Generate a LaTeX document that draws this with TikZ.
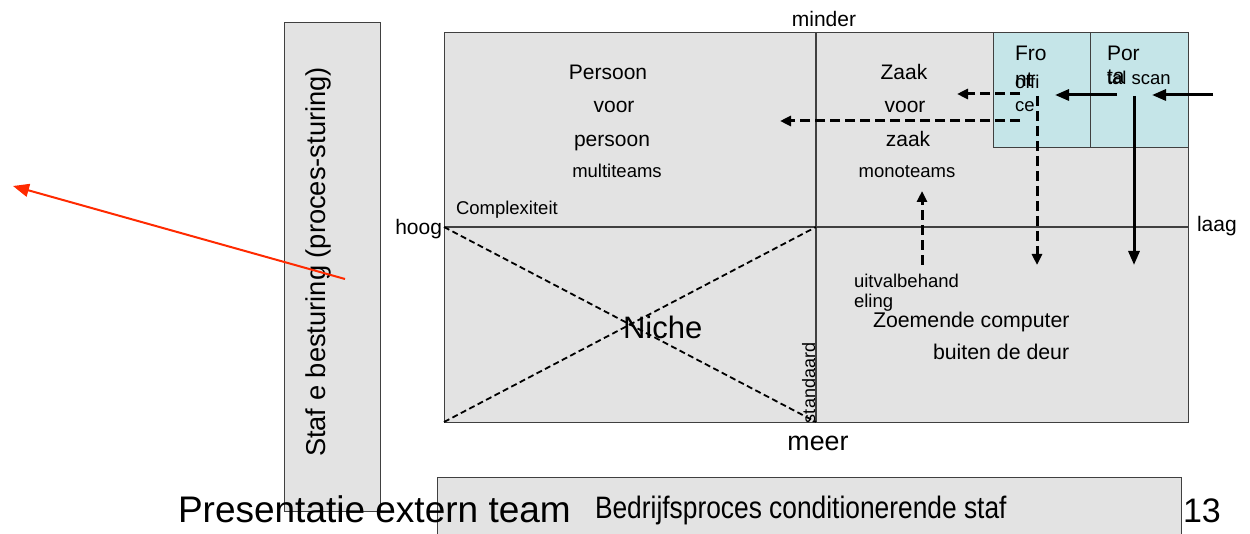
\documentclass[tikz,border=0pt]{standalone}
\usepackage{fontspec}
\setmainfont{Liberation Sans}
\usetikzlibrary{arrows.meta}
\definecolor{panel}{HTML}{E3E3E3}
\definecolor{cyanpanel}{HTML}{C5E5E8}
\definecolor{edge}{HTML}{404040}
\definecolor{redline}{HTML}{FF2A00}
\newcommand{\fsz}[1]{\fontsize{#1}{#1}\selectfont}

\begin{document}
\begin{tikzpicture}[x=1pt,y=-1pt,
  txt/.style={inner sep=0pt, outer sep=0pt, anchor=base},
  txtl/.style={txt, anchor=base west},
  big/.style={font=\fsz{21}},
  small/.style={font=\fsz{18.5}},
  frame/.style={draw=edge, line width=1pt},
  divider/.style={draw=edge, line width=1.2pt},
  diag/.style={line width=1.8pt, dash pattern=on 6pt off 3.5pt},
  flow/.style={line width=3pt, -{Triangle[length=14pt,width=11pt]}},
  dflow/.style={line width=3pt, dash pattern=on 10pt off 5pt, -{Triangle[length=11pt,width=10pt]}},
  redarrow/.style={draw=redline, line width=2pt, -{Triangle[length=16pt,width=13pt]}}]

\useasboundingbox (0,0) rectangle (1250,534);
\fill[white] (0,0) rectangle (1250,534);

% staff column on the left
\fill[panel] (284,23) rectangle (380,511);
\draw[frame] (284,23) rectangle (380,511);

% main quadrant chart
\fill[panel] (444,33) rectangle (1188,422);
\fill[cyanpanel] (993,33) rectangle (1188,148);
\draw[frame] (993,33) rectangle (1090,148);
\draw[frame] (1090,33) rectangle (1188,148);
\draw[frame] (444,33) rectangle (1188,422);
\coordinate (midTop) at (816,33);
\coordinate (midBot) at (816,422);
\coordinate (leftMid) at (444,227);
\coordinate (rightMid) at (1188,227);
\coordinate (leftBot) at (444,422);
\coordinate (centre) at (816,227);
\draw[divider] (midTop) -- (midBot);
\draw[divider] (leftMid) -- (rightMid);

% niche cross
\draw[diag] (leftMid) -- (midBot);
\draw[diag] (leftBot) -- (centre);

% axis labels
\node[txt, big] (minder) at (824,27) {minder};
\node[txt, font=\fsz{26.8}] (meer) at (818,450) {meer};
\node[txt, big, anchor=base east] (hoog) at (442,235) {hoog};
\node[txtl, big] (laag) at (1197,232) {laag};
\node[txtl, small] (complex) at (456,215) {Complexiteit};

% quadrant texts
\node[txt, big] (p1) at (608,80) {Persoon};
\node[txt, big] (p2) at (614,113) {voor};
\node[txt, big] (p3) at (612,147) {persoon};
\node[txt, small] (p4) at (617,178) {multiteams};

\node[txt, big] (z1) at (904,80) {Zaak};
\node[txt, big] (z2) at (905,113) {voor};
\node[txt, big] (z3) at (908,147) {zaak};
\node[txt, small] (z4) at (907,178) {monoteams};

\node[txtl, big] (fo1) at (1015,61) {Fro};
\node[txtl, big] (fo2) at (1015,87) {nt};
\node[txtl, small] (fo3) at (1015,89) {offi};
\node[txtl, small] (fo4) at (1015,112) {ce};

\node[txtl, big] (ps1) at (1107,61) {Por};
\node[txtl, big] (ps2) at (1107,84) {ta};
\node[txtl, small] (ps3) at (1107,85) {tal scan};

\node[txtl, small] (u1) at (854,288) {uitvalbehand};
\node[txtl, small] (u2) at (854,308) {eling};

\node[txtl, font=\fsz{31}] (niche) at (623,339) {Niche};
\node[txtl, font=\fsz{21.3}] (zc1) at (873,328) {Zoemende computer};
\node[txtl, font=\fsz{21.3}] (zc2) at (933,360) {buiten de deur};
\node[txtl, font=\fsz{18}, rotate=90] (std) at (815,423) {standaard};

\node[txt, font=\fsz{27.3}, rotate=90] (staf) at (325,262) {Staf e besturing (proces-sturing)};

% flow arrows
\coordinate (inR) at (1213,95);
\coordinate (portalL) at (1152,95);
\coordinate (portalOut) at (1117,95);
\coordinate (frontR) at (1055,95);
\coordinate (portalDown) at (1134,96);
\coordinate (portalEnd) at (1134,265);
\coordinate (frontDown) at (1037,96);
\coordinate (frontEnd) at (1037,265);
\coordinate (frontA) at (1020,94);
\coordinate (zaakR) at (957,94);
\coordinate (frontB) at (1020,121);
\coordinate (persR) at (780,121);
\coordinate (uitTop) at (922,265);
\coordinate (monoBot) at (922,191);

\draw[flow] (inR) -- (portalL);
\draw[flow] (portalOut) -- (frontR);
\draw[flow] (portalDown) -- (portalEnd);
\draw[dflow] (frontDown) -- (frontEnd);
\draw[dflow] (frontA) -- (zaakR);
\draw[dflow] (frontB) -- (persR);
\draw[dflow] (uitTop) -- (monoBot);

% conditioning staff bar at the bottom
\fill[panel] (437,477) rectangle (1181,534);
\draw[frame] (437,534) -- (437,477) -- (1181,477) -- (1181,534);
\node[txtl] (cond) at (595,518) {\scalebox{0.85}[1]{\fsz{31}Bedrijfsproces conditionerende staf}};

% footer
\node[txtl, font=\fsz{37}] (footer) at (178,522) {Presentatie extern team};
\node[txtl, font=\fsz{34}] (pagenr) at (1183,522) {13};

% red pointer
\coordinate (redStart) at (345,279);
\coordinate (redTip) at (13,186);
\draw[redarrow] (redStart) -- (redTip);
\end{tikzpicture}
\end{document}
